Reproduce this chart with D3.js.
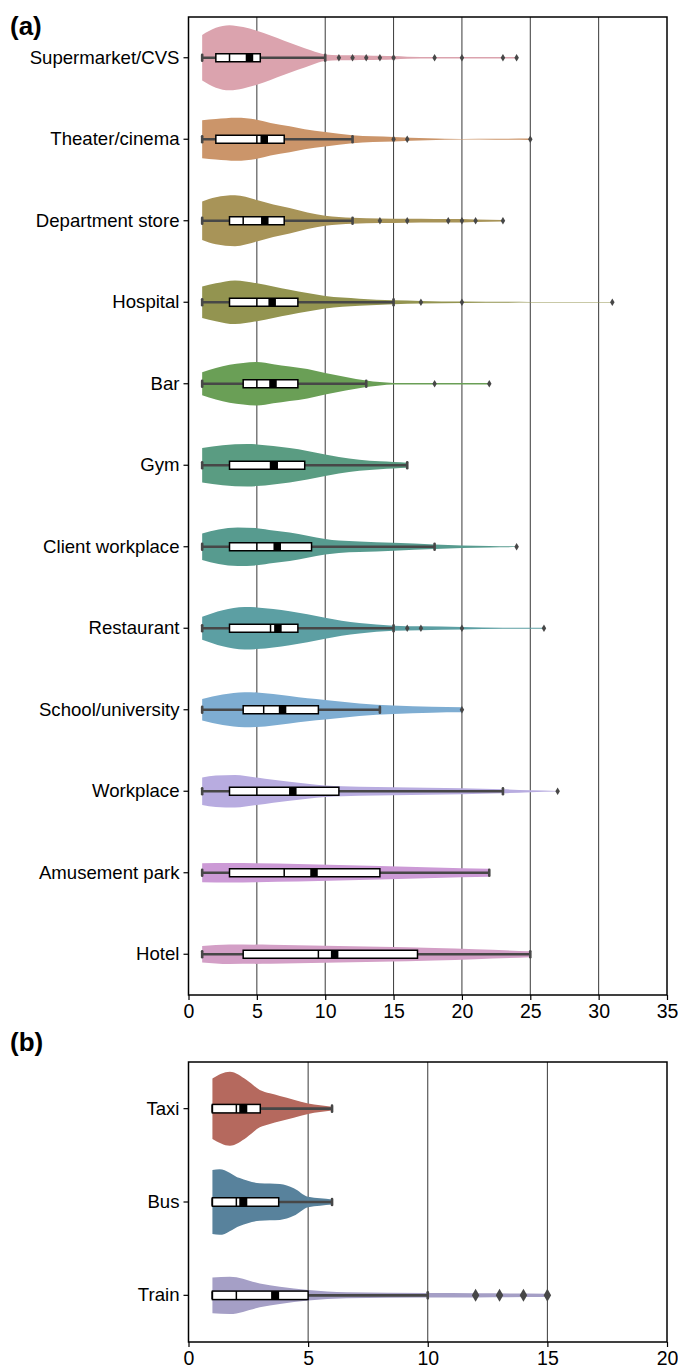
<!DOCTYPE html>
<html><head><meta charset="utf-8">
<script src="https://cdn.jsdelivr.net/npm/d3@7"></script>
<style>html,body{margin:0;padding:0;background:#fff;}svg{display:block;}</style>
</head><body>
<script>
// ---------- DATA ----------
const catsA = ["Supermarket/CVS","Theater/cinema","Department store","Hospital","Bar","Gym","Client workplace","Restaurant","School/university","Workplace","Amusement park","Hotel"];
const colorsA = ["#dba3ae","#cb956a","#a89458","#939450","#6a9f56","#5a9c82","#579b8f","#5c9fa3","#7eadd2","#b8ace0","#cc9ad6","#d39fc6"];
const q1A = [2,2,3,3,4,3,3,3,4,3,3,4];
const medA = [3,5,4,5,5,6,5,6,5.5,5,7,9.5];
const meanA = [4.46,5.54,5.58,6.12,6.18,6.27,6.49,6.54,6.88,7.63,9.18,10.69];
const q3A = [5.25,7,7,8,8,8.5,9,8,9.5,11,14,16.75];
const loA = [1,1,1,1,1,1,1,1,1,1,1,1];
const hiA = [10,12,12,15,13,16,18,15,14,23,22,25];
const outA = [[11,12,13,14,15,18,20,23,24],[15,16,25],[14,16,19,20,21,23],[17,20,31],[18,22],[],[24],[16,17,20,26],[20],[27],[],[]];
// violin density profiles: [value, relative density]
const violinA = [
  [[1,0.70],[2,0.92],[3,1.0],[4,0.94],[5,0.83],[6,0.68],[7,0.52],[8,0.37],[9,0.22],[10,0.10],[11,0.08],[12,0.075],[13,0.07],[14,0.06],[15,0.05],[16,0.03],[18,0.02],[20,0.02],[22,0.025],[24,0.02]],
  [[1,0.58],[2,0.62],[3.5,0.66],[5,0.60],[6,0.50],[7.4,0.40],[8.5,0.31],[10,0.22],[12,0.12],[15,0.07],[17.5,0.03],[20,0.01],[22.5,0.015],[25,0.02]],
  [[1,0.59],[2,0.72],[3.4,0.78],[5,0.64],[6.2,0.50],[7.4,0.39],[8.7,0.25],[10,0.15],[12,0.09],[14,0.07],[16,0.06],[18,0.055],[20,0.05],[21,0.04],[23,0.02]],
  [[1,0.48],[2,0.58],[3.4,0.67],[5,0.58],[6.2,0.48],[7.4,0.38],[8.7,0.28],[10,0.19],[12.5,0.11],[15,0.06],[17,0.04],[20,0.02],[25,0.01],[28,0.008],[31,0.01]],
  [[1,0.35],[2,0.48],[3,0.58],[4,0.64],[5,0.67],[6.2,0.60],[7.4,0.53],[8.7,0.45],[10,0.33],[11.5,0.21],[13,0.10],[14,0.05],[15,0.025],[17,0.02],[19,0.02],[22,0.02]],
  [[1,0.53],[2.5,0.61],[4.3,0.65],[5,0.64],[6.2,0.59],[7.4,0.53],[8.7,0.44],[10,0.33],[11,0.25],[12.5,0.17],[14,0.12],[15,0.10],[16,0.08]],
  [[1,0.41],[2.2,0.53],[3.6,0.59],[5,0.57],[6.2,0.50],[7.4,0.44],[8.7,0.34],[10,0.24],[11,0.19],[12.5,0.16],[15,0.12],[18,0.07],[20,0.04],[22,0.02],[24,0.01]],
  [[1,0.35],[2.5,0.55],[4.1,0.65],[5,0.64],[6.2,0.59],[7.4,0.52],[8.7,0.43],[10,0.32],[11.2,0.23],[12.5,0.16],[15,0.08],[17,0.06],[20,0.04],[23,0.015],[26,0.015]],
  [[1,0.33],[2.5,0.47],[4.1,0.54],[5,0.53],[6.2,0.48],[7.4,0.42],[8.7,0.35],[10,0.30],[12.5,0.19],[15,0.13],[17.8,0.09],[20,0.08]],
  [[1,0.42],[2,0.48],[3.4,0.50],[5,0.42],[6.2,0.35],[7.4,0.29],[8.7,0.23],[10,0.18],[12.5,0.14],[15,0.12],[20,0.09],[23,0.06],[25,0.03],[27,0.01]],
  [[1,0.29],[3,0.30],[5,0.29],[8,0.27],[11,0.24],[14,0.21],[18,0.16],[22,0.12]],
  [[1,0.25],[3,0.30],[6,0.29],[10,0.26],[14,0.23],[18,0.19],[21,0.15],[25,0.09]]
];
const ticksA = [0,5,10,15,20,25,30,35];

const catsB = ["Taxi","Bus","Train"];
const colorsB = ["#b5695e","#58829c","#a59fc6"];
const q1B = [1,1,1];
const medB = [2,2,2];
const meanB = [2.29,2.29,3.62];
const q3B = [3,3.77,5];
const loB = [1,1,1];
const hiB = [6,6,10];
const outB = [[],[],[12,13,14,15]];
const violinB = [
  [[1,0.81],[1.73,0.99],[2.43,0.77],[2.98,0.50],[3.4,0.41],[3.82,0.34],[4.4,0.24],[5,0.14],[5.5,0.09],[6,0.05]],
  [[1,0.86],[1.3,0.88],[2.14,0.64],[2.98,0.50],[3.82,0.48],[4.4,0.37],[5,0.14],[5.5,0.10],[6,0.07]],
  [[1,0.48],[1.73,0.50],[2.98,0.32],[3.82,0.23],[5,0.14],[6.6,0.08],[10,0.06],[12,0.055],[15,0.045]]
];
const ticksB = [0,5,10,15,20];

// ---------- DRAW ----------
const W = 678, H = 1368;
const FONT = "'Liberation Sans', Arial, sans-serif";
const svg = d3.select("body").append("svg").attr("width", W).attr("height", H)
  .style("font-family", FONT);

function panel(opts) {
  const {cats, colors, q1, med, mean, q3, lo, hi, outs, violins, ticks, xDomain, top, bottom, left, right,
         boxH, meanW, diaW, diaH, label, labelY} = opts;
  const x = d3.scaleLinear().domain(xDomain).range([left, right]);
  const y = d3.scaleBand().domain(cats).range([top, bottom]);
  const dens = d3.scaleLinear().domain([0, 1]).range([0, y.bandwidth() * 0.4]);
  const g = svg.append("g");

  // grid
  g.selectAll("line.grid").data(ticks.filter(t => t > xDomain[0] && t < xDomain[1])).join("line")
    .attr("x1", d => x(d)).attr("x2", d => x(d)).attr("y1", top).attr("y2", bottom)
    .attr("stroke", "#222").attr("stroke-width", 0.9);

  cats.forEach((c, i) => {
    const cy = y(c) + y.bandwidth() / 2;
    const area = d3.area().x(d => x(d[0])).y0(d => cy - dens(d[1])).y1(d => cy + dens(d[1]))
      .curve(d3.curveMonotoneX);
    g.append("path").datum(violins[i]).attr("d", area).attr("fill", colors[i]);
    // whisker
    g.append("line").attr("x1", x(lo[i])).attr("x2", x(hi[i])).attr("y1", cy).attr("y2", cy)
      .attr("stroke", "#474747").attr("stroke-width", 2.6);
    // caps
    [lo[i], hi[i]].forEach(v => {
      g.append("line").attr("x1", x(v)).attr("x2", x(v)).attr("y1", cy - 3).attr("y2", cy + 3)
        .attr("stroke", "#474747").attr("stroke-width", 2.6).attr("stroke-linecap", "round");
    });
    // box
    g.append("rect").attr("x", x(q1[i])).attr("y", cy - boxH / 2).attr("width", x(q3[i]) - x(q1[i]))
      .attr("height", boxH).attr("fill", "#fff").attr("stroke", "#000").attr("stroke-width", 1.5);
    // median
    g.append("line").attr("x1", x(med[i])).attr("x2", x(med[i])).attr("y1", cy - boxH / 2).attr("y2", cy + boxH / 2)
      .attr("stroke", "#000").attr("stroke-width", 1.5);
    // mean
    g.append("rect").attr("x", x(mean[i]) - meanW / 2).attr("y", cy - boxH / 2).attr("width", meanW)
      .attr("height", boxH).attr("fill", "#000");
    // outliers
    g.selectAll(null).data(outs[i]).join("path")
      .attr("d", d => `M${x(d)},${cy - diaH / 2}L${x(d) + diaW / 2},${cy}L${x(d)},${cy + diaH / 2}L${x(d) - diaW / 2},${cy}Z`)
      .attr("fill", "#474747");
  });

  // frame
  g.append("rect").attr("x", left).attr("y", top).attr("width", right - left).attr("height", bottom - top)
    .attr("fill", "none").attr("stroke", "#000").attr("stroke-width", 1.5);

  // axes
  const xAxis = d3.axisBottom(x).tickValues(ticks).tickSize(5).tickPadding(4).tickFormat(d3.format("d"));
  const ax = g.append("g").attr("transform", `translate(0,${bottom})`).call(xAxis);
  ax.select(".domain").remove();
  ax.selectAll("line").attr("stroke", "#000").attr("stroke-width", 1.2);
  ax.selectAll("text").attr("font-size", 19.5).attr("fill", "#000").attr("font-family", FONT);

  const yAxis = d3.axisLeft(y).tickSize(5).tickPadding(4);
  const ay = g.append("g").attr("transform", `translate(${left},0)`).call(yAxis);
  ay.select(".domain").remove();
  ay.selectAll("line").attr("stroke", "#000").attr("stroke-width", 1.2);
  ay.selectAll("text").attr("font-size", 18.6).attr("fill", "#000").attr("font-family", FONT);

  svg.append("text").attr("x", 10).attr("y", labelY).text(label)
    .attr("font-size", 26).attr("font-weight", "bold").attr("fill", "#000");
}

panel({cats: catsA, colors: colorsA, q1: q1A, med: medA, mean: meanA, q3: q3A, lo: loA, hi: hiA, outs: outA,
  violins: violinA, ticks: ticksA, xDomain: [0, 35], top: 17, bottom: 995, left: 188.5, right: 667,
  boxH: 8, meanW: 7.5, diaW: 4.5, diaH: 7.5, label: "(a)", labelY: 35});

panel({cats: catsB, colors: colorsB, q1: q1B, med: medB, mean: meanB, q3: q3B, lo: loB, hi: hiB, outs: outB,
  violins: violinB, ticks: ticksB, xDomain: [0, 20], top: 1062, bottom: 1342, left: 188.5, right: 667,
  boxH: 8.5, meanW: 8, diaW: 7.5, diaH: 13, label: "(b)", labelY: 1051});
</script>
</body></html>
